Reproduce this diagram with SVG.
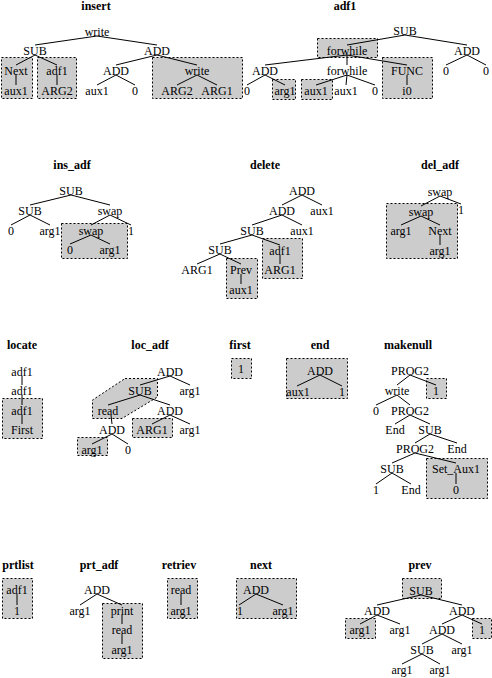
<svg xmlns="http://www.w3.org/2000/svg" width="492" height="678" viewBox="0 0 492 678">
<style>
text{font-family:"Liberation Serif","Times New Roman",serif;font-size:12px;text-anchor:middle;fill:#000}
.t{font-weight:bold}
.box{fill:#cccccc;stroke:#000;stroke-width:1;stroke-dasharray:2 2}
#edges path{stroke:#000;stroke-width:1;fill:none}
</style>
<rect width="492" height="678" fill="#fff"/>
<g id="regions">
<rect class="box" x="1.5" y="57.5" width="31" height="41"/>
<rect class="box" x="37.5" y="57.5" width="39" height="41"/>
<rect class="box" x="152.5" y="57.5" width="90" height="41"/>
<rect class="box" x="317.5" y="38.5" width="60" height="19"/>
<rect class="box" x="272.5" y="79.5" width="23" height="20"/>
<rect class="box" x="301.5" y="79.5" width="31" height="20"/>
<rect class="box" x="382.5" y="57.5" width="50" height="41"/>
<rect class="box" x="61.5" y="223.5" width="66" height="35"/>
<rect class="box" x="262.5" y="238.5" width="40" height="40"/>
<rect class="box" x="226.5" y="258.5" width="31" height="40"/>
<rect class="box" x="386.5" y="203.5" width="71" height="55"/>
<rect class="box" x="2.5" y="398.5" width="40" height="40"/>
<polygon class="box" points="125,378.5 157.5,378.5 157.5,397 122,418.5 92.5,418.5 92.5,400"/>
<rect class="box" x="132.5" y="418.5" width="40" height="19"/>
<rect class="box" x="77.5" y="437.5" width="30" height="18"/>
<rect class="box" x="231.5" y="358.5" width="20" height="20"/>
<rect class="box" x="286.5" y="358.5" width="61" height="40"/>
<rect class="box" x="426.5" y="378.5" width="20" height="20"/>
<rect class="box" x="426.5" y="458.5" width="61" height="40"/>
<rect class="box" x="2.5" y="578.5" width="30" height="40"/>
<rect class="box" x="102.5" y="603.5" width="40" height="55"/>
<rect class="box" x="167.5" y="578.5" width="30" height="40"/>
<rect class="box" x="236.5" y="578.5" width="60" height="40"/>
<rect class="box" x="402.5" y="578.5" width="39" height="20"/>
<rect class="box" x="345.5" y="618.5" width="30" height="20"/>
<rect class="box" x="472.5" y="618.5" width="19" height="20"/>
</g>
<g id="edges">
<path d="M97 36L35 45M97 36L157 45M35 55L16 65M35 55L57 65M16 75L16 85M57 75L57 85M157 55L116 65M157 55L197 65M116 75L97 85M116 75L135 85M197 75L177 85M197 75L217 85"/>
<path d="M405 35L347 45M405 35L467 45M347 55L265 65M347 55L347 65M347 55L407 65M265 75L247 85M265 75L285 85M347 75L316 85M347 75L346 85M347 75L375 85M407 75L407 85M467 55L446 65M467 55L486 65"/>
<path d="M71 195L30 205M71 195L110 205M30 215L11 225M30 215L50 225M110 215L91 225M110 215L131 225M91 235L70 244M91 235L110 244"/>
<path d="M302 195L282 205M302 195L322 205M282 215L252 225M282 215L302 225M252 235L220 244M252 235L280 245M220 254L197 264M220 254L241 264M280 255L280 264M241 274L241 284"/>
<path d="M440 196L421 206M440 196L461 204M421 216L401 225M421 216L440 225M440 235L440 245"/>
<path d="M22 376L22 385M22 395L22 405M22 415L22 424"/>
<path d="M170 376L140 385M170 376L190 385M140 395L108 405M140 395L170 405M111 415L112 424M170 415L152 424M170 415L190 424M112 434L92 444M112 434L128 444"/>
<path d="M320 375L297 386M320 375L342 386"/>
<path d="M410 375L397 385M410 375L436 385M397 395L376 405M397 395L410 405M410 415L395 424M410 415L430 424M430 434L415 443M430 434L457 443M415 453L392 463M415 453L456 463M392 473L376 484M392 473L411 484M456 473L456 484"/>
<path d="M17 594L17 605M97 594L80 605M97 594L122 605M122 615L122 624M122 634L122 644M181 594L181 605M256 594L239 605M256 594L283 605"/>
<path d="M421 595L377 605M421 595L462 605M377 615L360 624M377 615L400 624M462 615L442 624M462 615L482 624M442 634L422 644M442 634L462 644M422 654L402 664M422 654L440 664"/>
</g>
<g id="titles">
<text class="t" x="96" y="10">insert</text>
<text class="t" x="345" y="10">adf1</text>
<text class="t" x="72" y="169">ins_adf</text>
<text class="t" x="265" y="169">delete</text>
<text class="t" x="440" y="169">del_adf</text>
<text class="t" x="22" y="349">locate</text>
<text class="t" x="150" y="349">loc_adf</text>
<text class="t" x="240" y="349">first</text>
<text class="t" x="320" y="349">end</text>
<text class="t" x="408" y="349">makenull</text>
<text class="t" x="18" y="569">prtlist</text>
<text class="t" x="99" y="569">prt_adf</text>
<text class="t" x="179" y="569">retriev</text>
<text class="t" x="261" y="569">next</text>
<text class="t" x="420" y="569">prev</text>
</g>
<g id="insert">
<g id="i1"><text x="97" y="36">write</text></g>
<g id="i2"><text x="35" y="55">SUB</text></g>
<g id="i3"><text x="157" y="55">ADD</text></g>
<g id="i4"><text x="16" y="75">Next</text></g>
<g id="i5"><text x="57" y="75">adf1</text></g>
<g id="i6"><text x="16" y="95">aux1</text></g>
<g id="i7"><text x="57" y="95">ARG2</text></g>
<g id="i8"><text x="116" y="75">ADD</text></g>
<g id="i9"><text x="97" y="95">aux1</text></g>
<g id="i10"><text x="135" y="95">0</text></g>
<g id="i11"><text x="197" y="75">write</text></g>
<g id="i12"><text x="177" y="95">ARG2</text></g>
<g id="i13"><text x="217" y="95">ARG1</text></g>
</g>
<g id="adf1">
<g id="a1"><text x="405" y="35">SUB</text></g>
<g id="a2"><text x="347" y="55">forwhile</text></g>
<g id="a3"><text x="467" y="55">ADD</text></g>
<g id="a4"><text x="265" y="75">ADD</text></g>
<g id="a5"><text x="347" y="75">forwhile</text></g>
<g id="a6"><text x="407" y="75">FUNC</text></g>
<g id="a7"><text x="247" y="95">0</text></g>
<g id="a8"><text x="285" y="95">arg1</text></g>
<g id="a9"><text x="316" y="95">aux1</text></g>
<g id="a10"><text x="346" y="95">aux1</text></g>
<g id="a11"><text x="375" y="95">0</text></g>
<g id="a12"><text x="407" y="95">i0</text></g>
<g id="a13"><text x="446" y="75">0</text></g>
<g id="a14"><text x="486" y="75">0</text></g>
</g>
<g id="ins_adf">
<g id="b1"><text x="71" y="195">SUB</text></g>
<g id="b2"><text x="30" y="215">SUB</text></g>
<g id="b3"><text x="110" y="215">swap</text></g>
<g id="b4"><text x="11" y="235">0</text></g>
<g id="b5"><text x="50" y="235">arg1</text></g>
<g id="b6"><text x="91" y="235">swap</text></g>
<g id="b7"><text x="131" y="235">1</text></g>
<g id="b8"><text x="70" y="254">0</text></g>
<g id="b9"><text x="110" y="254">arg1</text></g>
</g>
<g id="delete">
<g id="d1"><text x="302" y="195">ADD</text></g>
<g id="d2"><text x="282" y="215">ADD</text></g>
<g id="d3"><text x="322" y="215">aux1</text></g>
<g id="d4"><text x="252" y="235">SUB</text></g>
<g id="d5"><text x="302" y="235">aux1</text></g>
<g id="d6"><text x="220" y="254">SUB</text></g>
<g id="d7"><text x="280" y="255">adf1</text></g>
<g id="d8"><text x="197" y="274">ARG1</text></g>
<g id="d9"><text x="241" y="274">Prev</text></g>
<g id="d10"><text x="280" y="274">ARG1</text></g>
<g id="d11"><text x="241" y="294">aux1</text></g>
</g>
<g id="del_adf">
<g id="e1"><text x="440" y="196">swap</text></g>
<g id="e2"><text x="421" y="216">swap</text></g>
<g id="e3"><text x="461" y="214">1</text></g>
<g id="e4"><text x="401" y="235">arg1</text></g>
<g id="e5"><text x="440" y="235">Next</text></g>
<g id="e6"><text x="440" y="255">arg1</text></g>
</g>
<g id="locate">
<g id="f1"><text x="22" y="376">adf1</text></g>
<g id="f2"><text x="22" y="395">adf1</text></g>
<g id="f3"><text x="22" y="415">adf1</text></g>
<g id="f4"><text x="22" y="434">First</text></g>
</g>
<g id="loc_adf">
<g id="g1"><text x="170" y="376">ADD</text></g>
<g id="g2"><text x="140" y="395">SUB</text></g>
<g id="g3"><text x="190" y="395">arg1</text></g>
<g id="g4"><text x="108" y="415">read</text></g>
<g id="g5"><text x="170" y="415">ADD</text></g>
<g id="g6"><text x="112" y="434">ADD</text></g>
<g id="g7"><text x="152" y="434">ARG1</text></g>
<g id="g8"><text x="190" y="434">arg1</text></g>
<g id="g9"><text x="92" y="454">arg1</text></g>
<g id="g10"><text x="128" y="454">0</text></g>
</g>
<g id="first">
<g id="h1"><text x="241" y="373">1</text></g>
</g>
<g id="end">
<g id="j1"><text x="320" y="375">ADD</text></g>
<g id="j2"><text x="298" y="396">aux1</text></g>
<g id="j3"><text x="342" y="396">1</text></g>
</g>
<g id="makenull">
<g id="m1"><text x="410" y="375">PROG2</text></g>
<g id="m2"><text x="397" y="395">write</text></g>
<g id="m3"><text x="436" y="395">1</text></g>
<g id="m4"><text x="376" y="415">0</text></g>
<g id="m5"><text x="410" y="415">PROG2</text></g>
<g id="m6"><text x="395" y="434">End</text></g>
<g id="m7"><text x="430" y="434">SUB</text></g>
<g id="m8"><text x="415" y="453">PROG2</text></g>
<g id="m9"><text x="457" y="453">End</text></g>
<g id="m10"><text x="392" y="473">SUB</text></g>
<g id="m11"><text x="456" y="473">Set_Aux1</text></g>
<g id="m12"><text x="376" y="494">1</text></g>
<g id="m13"><text x="411" y="494">End</text></g>
<g id="m14"><text x="456" y="494">0</text></g>
</g>
<g id="prtlist">
<g id="p1"><text x="17" y="594">adf1</text></g>
<g id="p2"><text x="17" y="615">1</text></g>
</g>
<g id="prt_adf">
<g id="q1"><text x="97" y="594">ADD</text></g>
<g id="q2"><text x="80" y="615">arg1</text></g>
<g id="q3"><text x="122" y="615">print</text></g>
<g id="q4"><text x="122" y="634">read</text></g>
<g id="q5"><text x="122" y="654">arg1</text></g>
</g>
<g id="retriev">
<g id="r1"><text x="181" y="594">read</text></g>
<g id="r2"><text x="181" y="615">arg1</text></g>
</g>
<g id="next">
<g id="s1"><text x="256" y="594">ADD</text></g>
<g id="s2"><text x="240" y="615">1</text></g>
<g id="s3"><text x="283" y="615">arg1</text></g>
</g>
<g id="prev">
<g id="v1"><text x="421" y="595">SUB</text></g>
<g id="v2"><text x="377" y="615">ADD</text></g>
<g id="v3"><text x="462" y="615">ADD</text></g>
<g id="v4"><text x="360" y="634">arg1</text></g>
<g id="v5"><text x="400" y="634">arg1</text></g>
<g id="v6"><text x="442" y="634">ADD</text></g>
<g id="v7"><text x="482" y="634">1</text></g>
<g id="v8"><text x="422" y="654">SUB</text></g>
<g id="v9"><text x="462" y="654">arg1</text></g>
<g id="v10"><text x="402" y="674">arg1</text></g>
<g id="v11"><text x="440" y="674">arg1</text></g>
</g>
</svg>
